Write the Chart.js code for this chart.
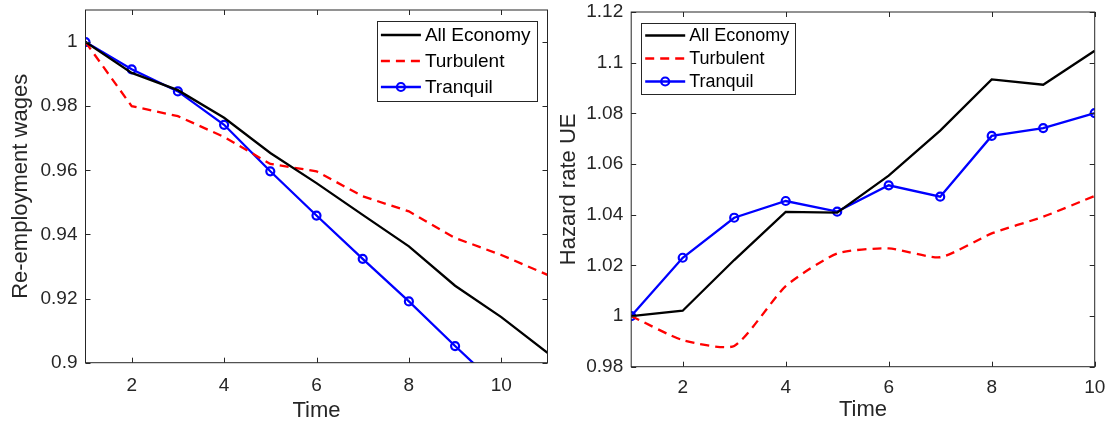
<!DOCTYPE html>
<html>
<head>
<meta charset="utf-8">
<script src="https://cdn.jsdelivr.net/npm/chart.js@4.4.1/dist/chart.umd.min.js"></script>
<style>
  html, body { margin: 0; padding: 0; background: #fff; }
  #wrap { position: relative; width: 1109px; height: 427px; overflow: hidden; }
  .panel { position: absolute; top: 0; height: 427px; }
  #left { left: 0; width: 555px; }
  #right { left: 555px; width: 554px; }
</style>
</head>
<body>
<div id="wrap">
  <div class="panel" id="left"><canvas id="wageChart"></canvas></div>
  <div class="panel" id="right"><canvas id="hazardChart"></canvas></div>
</div>
<script>
// data
const seriesNames = ['All Economy', 'Turbulent', 'Tranquil'];

const wageTime   = [1, 2, 3, 4, 5, 6, 7, 8, 9, 10, 11];
const wageAll    = [1.0, 0.9904, 0.9850, 0.9764, 0.9654, 0.9560, 0.9461, 0.9363, 0.9240, 0.9142, 0.9031];
const wageTurb   = [1.0, 0.9800, 0.9769, 0.9704, 0.9620, 0.9597, 0.9519, 0.9472, 0.9389, 0.9336, 0.9274];
const wageTranq  = [1.0, 0.9915, 0.9846, 0.9742, 0.9597, 0.9459, 0.9324, 0.9191, 0.9052, 0.8917, 0.8780];
const wageTicksY = [0.9, 0.92, 0.94, 0.96, 0.98, 1];

const hazTime    = [1, 2, 3, 4, 5, 6, 7, 8, 9, 10];
const hazAll     = [1.0, 1.0021, 1.0221, 1.0411, 1.0408, 1.0554, 1.0732, 1.0934, 1.0913, 1.1047];
const hazTurb    = [1.0, 0.9905, 0.9882, 1.0118, 1.0247, 1.0267, 1.0232, 1.0326, 1.0392, 1.0474];
const hazTranq   = [1.0, 1.0230, 1.0388, 1.0454, 1.0412, 1.0516, 1.0471, 1.0711, 1.0742, 1.0801];
const hazTicksY  = [0.98, 1, 1.02, 1.04, 1.06, 1.08, 1.1, 1.12];

const timeTicks  = [2, 4, 6, 8, 10];

const FONT = '"Liberation Sans", Arial, Helvetica, sans-serif';
const AXIS_COL = '#262626';

function pts(xs, ys) {
  return xs.map((x, i) => ({ x: x, y: ys[i] }));
}

function fmt(v) {
  return String(Math.round(v * 100) / 100);
}

// MARK: caja tipo matlab con ticks hacia dentro + leyenda enmarcada
const matBox = {
  id: 'matBox',
  afterDraw(chart, args, opts) {
    const ctx = chart.ctx;
    const a = chart.chartArea;
    const xs = chart.scales.x, ys = chart.scales.y;
    ctx.save();
    ctx.strokeStyle = AXIS_COL;
    ctx.lineWidth = 1;
    ctx.strokeRect(a.left, a.top, a.right - a.left, a.bottom - a.top);
    ctx.beginPath();
    xs.ticks.forEach(t => {
      const px = Math.round(xs.getPixelForValue(t.value)) + 0.5;
      ctx.moveTo(px, a.bottom); ctx.lineTo(px, a.bottom - 5);
      ctx.moveTo(px, a.top);    ctx.lineTo(px, a.top + 5);
    });
    ys.ticks.forEach(t => {
      const py = Math.round(ys.getPixelForValue(t.value)) + 0.5;
      ctx.moveTo(a.left, py);  ctx.lineTo(a.left + 5, py);
      ctx.moveTo(a.right, py); ctx.lineTo(a.right - 5, py);
    });
    ctx.stroke();

    // leyenda
    const sets = chart.data.datasets;
    ctx.font = opts.size + 'px ' + FONT;
    let tw = 0;
    sets.forEach(d => { tw = Math.max(tw, ctx.measureText(d.label).width); });
    const w = 4 + 40 + 4 + tw + 6;
    const h = opts.rowH * sets.length + 2;
    const x0 = opts.side === 'right' ? a.right - opts.inset - w : a.left + opts.inset;
    const y0 = a.top + opts.top;
    ctx.fillStyle = '#fff';
    ctx.fillRect(x0, y0, w, h);
    ctx.strokeStyle = AXIS_COL;
    ctx.strokeRect(Math.round(x0) + 0.5, Math.round(y0) + 0.5, Math.round(w), Math.round(h));
    sets.forEach((d, i) => {
      const cy = y0 + 1 + opts.rowH * (i + 0.5);
      ctx.save();
      ctx.strokeStyle = d.borderColor;
      ctx.lineWidth = d.borderWidth;
      ctx.setLineDash(d.borderDash || []);
      ctx.beginPath();
      ctx.moveTo(x0 + 4, cy); ctx.lineTo(x0 + 44, cy);
      ctx.stroke();
      ctx.setLineDash([]);
      if (d.pointRadius > 0) {
        ctx.lineWidth = d.pointBorderWidth;
        ctx.beginPath();
        ctx.arc(x0 + 24, cy, d.pointRadius, 0, Math.PI * 2);
        ctx.stroke();
      }
      ctx.restore();
      ctx.fillStyle = '#000';
      ctx.textBaseline = 'middle';
      ctx.textAlign = 'left';
      ctx.fillText(d.label, x0 + 48, cy + 1);
    });
    ctx.restore();
  }
};

function makeDatasets(xs, all, turb, tranq, turbTension) {
  return [
    { label: seriesNames[0], data: pts(xs, all), borderColor: '#000000', borderWidth: 2.3,
      pointRadius: 0, tension: 0 },
    { label: seriesNames[1], data: pts(xs, turb), borderColor: '#FF0000', borderWidth: 2.3,
      borderDash: [9, 6], pointRadius: 0, tension: turbTension },
    { label: seriesNames[2], data: pts(xs, tranq), borderColor: '#0000FF', borderWidth: 2.3,
      pointRadius: 4, pointBorderWidth: 2.2, pointBorderColor: '#0000FF',
      pointBackgroundColor: 'rgba(0,0,0,0)', tension: 0 }
  ];
}

function makeChart(id, cfg) {
  return new Chart(document.getElementById(id).getContext('2d'), {
    type: 'line',
    data: { datasets: cfg.datasets },
    options: {
      responsive: true,
      maintainAspectRatio: false,
      animation: false,
      layout: { padding: { top: cfg.padTop, right: cfg.padRight, left: 0, bottom: 0 } },
      plugins: {
        legend: { display: false },
        tooltip: { enabled: false },
        matBox: cfg.legend
      },
      scales: {
        x: {
          type: 'linear', min: cfg.xMin, max: cfg.xMax,
          afterBuildTicks: s => { s.ticks = timeTicks.map(v => ({ value: v })); },
          afterFit: s => { s.height = cfg.xH; s.paddingLeft = 0; s.paddingRight = 0; },
          grid: { display: false, drawTicks: false },
          border: { display: false },
          ticks: { color: AXIS_COL, font: { family: FONT, size: 19 }, padding: cfg.xTickPad, maxRotation: 0,
                   callback: v => fmt(v) },
          title: { display: true, text: 'Time', color: AXIS_COL, font: { family: FONT, size: 22 },
                   padding: { top: 0, bottom: cfg.xTitlePad } }
        },
        y: {
          type: 'linear', min: cfg.yMin, max: cfg.yMax,
          afterBuildTicks: s => { s.ticks = cfg.yTicks.map(v => ({ value: v })); },
          afterFit: s => { s.width = cfg.yW; s.paddingTop = 0; s.paddingBottom = 0; },
          grid: { display: false, drawTicks: false },
          border: { display: false },
          ticks: { color: AXIS_COL, font: { family: FONT, size: 19 }, padding: 8,
                   callback: v => fmt(v) },
          title: { display: true, text: cfg.yTitle, color: AXIS_COL, font: { family: FONT, size: 22 },
                   padding: { top: cfg.yTitlePad, bottom: 0 } }
        }
      }
    },
    plugins: [matBox]
  });
}

makeChart('wageChart', {
  datasets: makeDatasets(wageTime, wageAll, wageTurb, wageTranq, 0),
  xMin: 1, xMax: 11, yMin: 0.9, yMax: 1.01, yTicks: wageTicksY,
  yTitle: 'Re-employment wages',
  padTop: 10, padRight: 7.5, yW: 85.5, xH: 64.3,
  xTickPad: 12, xTitlePad: 3, yTitlePad: 8,
  legend: { side: 'right', inset: 11, top: 11, rowH: 26, size: 19 }
});

makeChart('hazardChart', {
  datasets: makeDatasets(hazTime, hazAll, hazTurb, hazTranq, 0.2),
  xMin: 1, xMax: 10, yMin: 0.98, yMax: 1.12, yTicks: hazTicksY,
  yTitle: 'Hazard rate UE',
  padTop: 12, padRight: 14.3, yW: 76.2, xH: 60.3,
  xTickPad: 10, xTitlePad: 4, yTitlePad: 1,
  legend: { side: 'left', inset: 10, top: 11, rowH: 23, size: 18 }
});
</script>
</body>
</html>
